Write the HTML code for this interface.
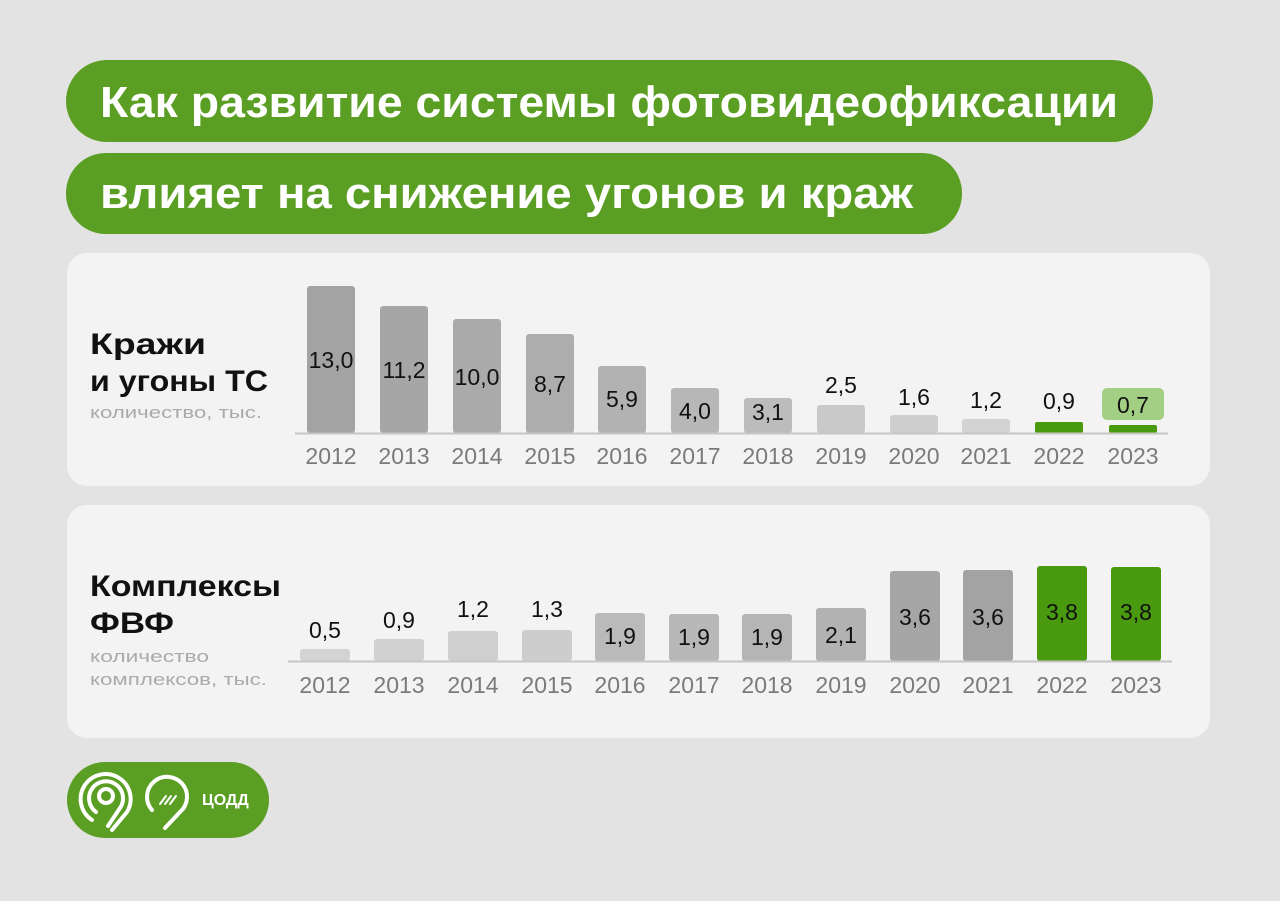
<!DOCTYPE html>
<html><head><meta charset="utf-8"><style>
html,body{margin:0;padding:0;background:#e3e3e3;width:1280px;height:901px;overflow:hidden}
svg{display:block}
</style></head><body>
<svg width="1280" height="901" viewBox="0 0 1280 901" font-family="'Liberation Sans', sans-serif">
<rect x="0" y="0" width="1280" height="901" fill="#e3e3e3"/>
<rect x="66" y="60" width="1087" height="82" rx="41" fill="#5a9e23"/>
<text x="100" y="117" font-size="44" font-weight="bold" fill="#fff" textLength="1018" lengthAdjust="spacingAndGlyphs">Как развитие системы фотовидеофиксации</text>
<rect x="66" y="153" width="896" height="81" rx="40" fill="#5a9e23"/>
<text x="100" y="208" font-size="44" font-weight="bold" fill="#fff" textLength="813" lengthAdjust="spacingAndGlyphs">влияет на снижение угонов и краж</text>

<rect x="67" y="253" width="1143" height="233" rx="20" fill="#f3f3f3"/>
<rect x="67" y="505" width="1143" height="233" rx="20" fill="#f3f3f3"/>

<text x="90" y="354" font-size="30" font-weight="bold" fill="#111" textLength="116" lengthAdjust="spacingAndGlyphs">Кражи</text>
<text x="90" y="391" font-size="30" font-weight="bold" fill="#111" textLength="178" lengthAdjust="spacingAndGlyphs">и угоны ТС</text>
<text x="90" y="418" font-size="17" fill="#aaa" textLength="172" lengthAdjust="spacingAndGlyphs">количество, тыс.</text>

<text x="90" y="596" font-size="30" font-weight="bold" fill="#111" textLength="191" lengthAdjust="spacingAndGlyphs">Комплексы</text>
<text x="90" y="633" font-size="30" font-weight="bold" fill="#111" textLength="84" lengthAdjust="spacingAndGlyphs">ФВФ</text>
<text x="90" y="662" font-size="17" fill="#aaa" textLength="119" lengthAdjust="spacingAndGlyphs">количество</text>
<text x="90" y="685" font-size="17" fill="#aaa" textLength="177" lengthAdjust="spacingAndGlyphs">комплексов, тыс.</text>

<g font-size="23" text-anchor="middle">
<rect x="307" y="286" width="48" height="147" rx="3" fill="#a3a3a3"/>
<rect x="380" y="306" width="48" height="127" rx="3" fill="#a6a6a6"/>
<rect x="453" y="319" width="48" height="114" rx="3" fill="#aaaaaa"/>
<rect x="526" y="334" width="48" height="99" rx="3" fill="#adadad"/>
<rect x="598" y="366" width="48" height="67" rx="3" fill="#b2b2b2"/>
<rect x="671" y="388" width="48" height="45" rx="3" fill="#b7b7b7"/>
<rect x="744" y="398" width="48" height="35" rx="3" fill="#bcbcbc"/>
<rect x="817" y="405" width="48" height="28" rx="3" fill="#c9c9c9"/>
<rect x="890" y="415" width="48" height="18" rx="3" fill="#cecece"/>
<rect x="962" y="419" width="48" height="14" rx="3" fill="#d3d3d3"/>
<rect x="1035" y="422" width="48" height="11" rx="2" fill="#4a9a10"/>
<rect x="1109" y="425" width="48" height="8" rx="2" fill="#4a9a10"/>
<rect x="1102" y="388" width="62" height="32" rx="5" fill="#a3cf84"/>
<line x1="295" y1="433.5" x2="1168" y2="433.5" stroke="#c6c6c6" stroke-width="2"/>
<g fill="#111">
<text x="331" y="368">13,0</text><text x="404" y="378">11,2</text><text x="477" y="385">10,0</text>
<text x="550" y="392">8,7</text><text x="622" y="407">5,9</text><text x="695" y="419">4,0</text>
<text x="768" y="420">3,1</text><text x="841" y="393">2,5</text><text x="914" y="405">1,6</text>
<text x="986" y="408">1,2</text><text x="1059" y="409">0,9</text><text x="1133" y="413">0,7</text>
</g>
<g fill="#7a7a7a">
<text x="331" y="464">2012</text><text x="404" y="464">2013</text><text x="477" y="464">2014</text>
<text x="550" y="464">2015</text><text x="622" y="464">2016</text><text x="695" y="464">2017</text>
<text x="768" y="464">2018</text><text x="841" y="464">2019</text><text x="914" y="464">2020</text>
<text x="986" y="464">2021</text><text x="1059" y="464">2022</text><text x="1133" y="464">2023</text>
</g>
<rect x="300" y="649" width="50" height="12" rx="3" fill="#d3d3d3"/>
<rect x="374" y="639" width="50" height="22" rx="3" fill="#d1d1d1"/>
<rect x="448" y="631" width="50" height="30" rx="3" fill="#cfcfcf"/>
<rect x="522" y="630" width="50" height="31" rx="3" fill="#cdcdcd"/>
<rect x="595" y="613" width="50" height="48" rx="3" fill="#bababa"/>
<rect x="669" y="614" width="50" height="47" rx="3" fill="#b8b8b8"/>
<rect x="742" y="614" width="50" height="47" rx="3" fill="#b5b5b5"/>
<rect x="816" y="608" width="50" height="53" rx="3" fill="#b2b2b2"/>
<rect x="890" y="571" width="50" height="90" rx="3" fill="#a6a6a6"/>
<rect x="963" y="570" width="50" height="91" rx="3" fill="#a3a3a3"/>
<rect x="1037" y="566" width="50" height="95" rx="3" fill="#4a9a10"/>
<rect x="1111" y="567" width="50" height="94" rx="3" fill="#4a9a10"/>
<line x1="288" y1="661.5" x2="1172" y2="661.5" stroke="#c6c6c6" stroke-width="2"/>
<g fill="#111">
<text x="325" y="638">0,5</text><text x="399" y="628">0,9</text><text x="473" y="617">1,2</text>
<text x="547" y="617">1,3</text><text x="620" y="644">1,9</text><text x="694" y="645">1,9</text>
<text x="767" y="645">1,9</text><text x="841" y="643">2,1</text><text x="915" y="625">3,6</text>
<text x="988" y="625">3,6</text><text x="1062" y="620">3,8</text><text x="1136" y="620">3,8</text>
</g>
<g fill="#7a7a7a">
<text x="325" y="693">2012</text><text x="399" y="693">2013</text><text x="473" y="693">2014</text>
<text x="547" y="693">2015</text><text x="620" y="693">2016</text><text x="694" y="693">2017</text>
<text x="767" y="693">2018</text><text x="841" y="693">2019</text><text x="915" y="693">2020</text>
<text x="988" y="693">2021</text><text x="1062" y="693">2022</text><text x="1136" y="693">2023</text>
</g>
</g>

<rect x="67" y="762" width="202" height="76" rx="38" fill="#5a9e23"/>
<g fill="none" stroke="#fff" stroke-width="4" stroke-linecap="round">
<circle cx="106" cy="796" r="7"/>
<path d="M96 812 A17 17 0 1 1 120 808 L108 826"/>
<path d="M92 820 A25 25 0 1 1 127 812 L112 830"/>
<path d="M152 810 A20 20 0 1 1 180 812 L165 828"/>
<path d="M160 804 L166 796 M165 804 L171 796 M170 804 L176 796" stroke-width="2"/>
</g>
<text x="202" y="805" font-size="16" font-weight="bold" fill="#fff">ЦОДД</text>
</svg>
</body></html>
